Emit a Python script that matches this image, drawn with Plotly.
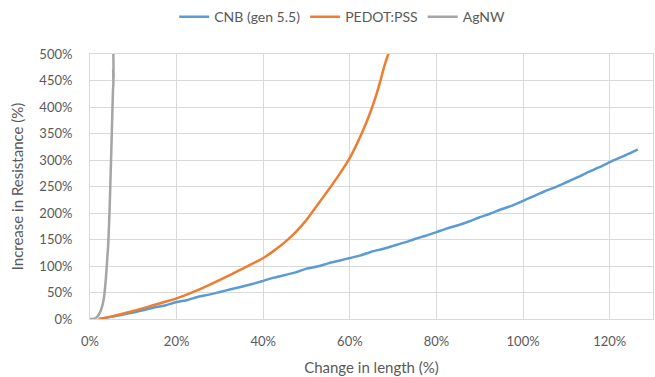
import plotly.graph_objects as go

# Change in length (%) and increase in resistance (%)
cnb_x = [2, 5, 7.5, 10, 12.5, 15, 17.5, 20, 22.5, 25, 27.5, 30, 32.5, 35, 37.5, 40, 42.5, 45, 47.5, 50,
         52.5, 55, 57.5, 60, 62.5, 65, 67.5, 70, 72.5, 75, 77.5, 80, 82.5, 85, 87.5, 90, 92.5, 95, 97.5,
         100, 102.5, 105, 107.5, 110, 112.5, 115, 117.5, 120, 122.5, 125, 126.5]
cnb_y = [0, 4, 8, 12, 17, 22, 26, 32, 36, 42, 46, 51, 56, 61, 66, 72, 78, 83, 88, 95,
         99, 105, 110, 115, 120, 127, 132, 138, 144, 151, 157, 164, 171, 177, 184, 192, 199, 207, 214,
         223, 232, 241, 249, 258, 267, 277, 286, 296, 305, 314, 320]

pedot_x = [2, 5, 10, 15, 20, 25, 30, 35, 40, 42.5, 45, 47.5, 50, 52.5, 55, 57.5, 60, 61.5, 63,
           64.5, 66, 67, 68, 69.2]
pedot_y = [0, 5, 15, 27, 39, 55, 74, 94, 115, 129, 145, 164, 187, 215, 243, 272, 304, 328, 355,
           385, 420, 448, 478, 508]

agnw_x = [0, 1, 1.5, 2, 2.5, 3, 3.3, 3.7, 4.0, 4.2, 4.5, 4.85, 5.1, 5.3, 5.4, 5.35, 5.45, 5.4, 5.45]
agnw_y = [0, 0.5, 3, 8, 16, 30, 45, 80, 115, 140, 200, 297, 370, 430, 445, 470, 455, 500, 520]

series_names = ["CNB (gen 5.5)", "PEDOT:PSS", "AgNW"]
series_colors = ["#5B9BD5", "#ED7D31", "#A5A5A5"]

x_ticks = [0, 20, 40, 60, 80, 100, 120]
y_ticks = [0, 50, 100, 150, 200, 250, 300, 350, 400, 450, 500]

fig = go.Figure()
for name, xs, ys, col in zip(series_names,
                             [cnb_x, pedot_x, agnw_x],
                             [cnb_y, pedot_y, agnw_y],
                             series_colors):
    fig.add_trace(go.Scatter(x=xs, y=ys, mode="lines", name=name,
                             line=dict(color=col, width=2.5, shape="spline", smoothing=0.6)))

font_family = "Lato, 'Open Sans', sans-serif"
axis_common = dict(showgrid=True, gridcolor="#D9D9D9", gridwidth=1,
                   showline=True, linecolor="#D9D9D9", linewidth=1, mirror=True,
                   zeroline=False, ticks="",
                   tickfont=dict(family=font_family, size=13, color="#595959"))

fig.update_layout(
    width=655, height=377,
    margin=dict(l=90, r=2, t=53, b=58),
    paper_bgcolor="white", plot_bgcolor="white",
    font=dict(family=font_family, color="#595959"),
    showlegend=True,
    legend=dict(orientation="h", x=0.448, xanchor="center", y=1.135, yanchor="middle",
                font=dict(family=font_family, size=14, color="#595959"),
                itemwidth=30, bgcolor="rgba(0,0,0,0)"),
    xaxis=dict(range=[0, 130], tickvals=x_ticks, ticktext=[f"{v}%" for v in x_ticks],
               ticklabelstandoff=10,
               title=dict(text="Change in length (%)", standoff=14,
                          font=dict(family=font_family, size=15, color="#595959")),
               **axis_common),
    yaxis=dict(range=[0, 500], tickvals=y_ticks, ticktext=[f"{v}%" for v in y_ticks],
               ticklabelstandoff=14,
               title=dict(text="Increase in Resistance (%)", standoff=12,
                          font=dict(family=font_family, size=15, color="#595959")),
               **axis_common),
)

fig.write_html("out.html")
